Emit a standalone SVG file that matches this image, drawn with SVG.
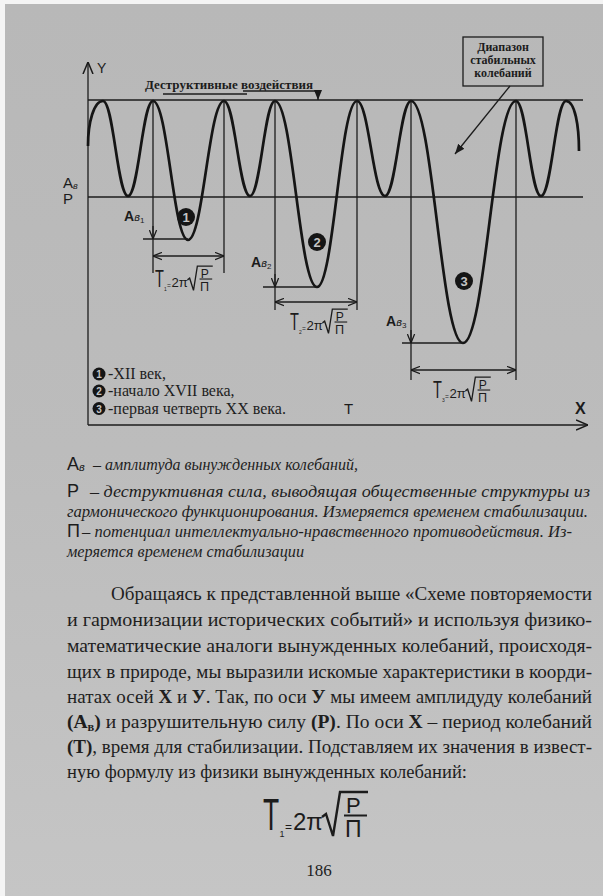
<svg xmlns="http://www.w3.org/2000/svg" width="603" height="896" viewBox="0 0 603 896">
<defs>
<linearGradient id="page" x1="0" y1="0" x2="0" y2="1">
<stop offset="0" stop-color="#b8b8b8"/>
<stop offset="0.5" stop-color="#bcbcbc"/>
<stop offset="1" stop-color="#c5c5c5"/>
</linearGradient>
<marker id="openArrow" viewBox="0 0 10 10" refX="10" refY="5" markerWidth="9" markerHeight="9" markerUnits="userSpaceOnUse" orient="auto-start-reverse">
<path d="M0,1 L10,5 L0,9" fill="none" stroke="#1a1a1a" stroke-width="1.4"/>
</marker>
<marker id="axisArrow" viewBox="0 0 12 12" refX="12" refY="6" markerWidth="12" markerHeight="12" markerUnits="userSpaceOnUse" orient="auto-start-reverse">
<path d="M0,1 L12,6 L0,11" fill="none" stroke="#1a1a1a" stroke-width="1.5"/>
</marker>
<marker id="solidArrow" viewBox="0 0 10 10" refX="10" refY="5" markerWidth="10" markerHeight="10" markerUnits="userSpaceOnUse" orient="auto">
<path d="M0,1 L10,5 L0,9 Z" fill="#1a1a1a"/>
</marker>
<style>
.ln{stroke:#1c1c1c;stroke-width:1.3;fill:none}
.wave{stroke:#151515;stroke-width:2.7;fill:none;stroke-linejoin:round}
.sans{font-family:"Liberation Sans",Arial,sans-serif;fill:#1c1c1c}
.serif{font-family:"Liberation Serif","Times New Roman",serif;fill:#1e1e1e}
.bs{font-family:"Liberation Serif","Times New Roman",serif;font-weight:bold;fill:#1c1c1c}
.it{font-family:"Liberation Serif","Times New Roman",serif;font-style:italic;fill:#1e1e1e;font-size:17px}
.par{font-family:"Liberation Serif","Times New Roman",serif;fill:#1e1e1e;font-size:19px}
.num{fill:#151515}
.numt{font-family:"Liberation Sans",Arial,sans-serif;font-weight:bold;fill:#c4c4c4;text-anchor:middle}
.fs{stroke:#1c1c1c;fill:none}
</style>
</defs>

<rect x="0" y="0" width="603" height="896" fill="#f4f4f4"/>
<rect x="5" y="4" width="598" height="892" fill="url(#page)"/>

<g id="axes">
<path class="ln" d="M88,425 V62" marker-end="url(#axisArrow)"/>
<path class="ln" d="M88,425 H588" marker-end="url(#axisArrow)"/>
<text class="sans" x="97" y="73" font-size="14">Y</text>
<text class="sans" x="575" y="414" font-size="16" font-weight="bold">X</text>
<text class="sans" x="344" y="414" font-size="15">T</text>
</g>

<g id="levels">
<path class="ln" d="M88,100 H583"/>
<path class="ln" d="M88,197 H583"/>
<text class="sans" x="63" y="188" font-size="15">A<tspan font-size="9" font-style="italic" dy="1">в</tspan></text>
<text class="sans" x="63" y="204" font-size="15">P</text>
</g>

<g id="wave">
<path class="wave" d="M88,146 C88,122 94,101 103,101 C113.5,101 117.5,196 128,196 C138.5,196 142.5,101 153,101 C167.7,101 173.3,240 188,240 C203.1,240 208.9,101 224,101 C234.9,101 239.1,196 250,196 C260.5,196 264.5,101 275,101 C292.6,101 299.4,287 317,287 C333.8,287 340.2,101 357,101 C368.8,101 373.2,196 385,196 C395.9,196 400.1,101 411,101 C432.8,101 441.2,343 463,343 C485.3,343 493.7,101 516,101 C526.5,101 530.5,196 541,196 C551.5,196 555.5,101 566,101 C575,101 579,126 579,151"/>
</g>

<g id="destructive-label">
<text class="bs" x="145" y="89" font-size="13" textLength="168" lengthAdjust="spacingAndGlyphs">Деструктивные воздействия</text>
<path class="ln" d="M163,94 H247"/>
<path class="ln" d="M243,91 H318 V100" marker-end="url(#solidArrow)"/>
</g>

<g id="stable-range-box">
<rect x="463" y="37" width="80" height="49" fill="none" stroke="#1c1c1c" stroke-width="1.3"/>
<text class="bs" x="503" y="51" font-size="12" text-anchor="middle">Диапазон</text>
<text class="bs" x="503" y="64" font-size="12" text-anchor="middle">стабильных</text>
<text class="bs" x="503" y="77" font-size="12" text-anchor="middle">колебаний</text>
</g>

<g id="connectors">
<path class="ln" d="M510,86 L455,154" marker-end="url(#solidArrow)"/>
<path class="ln" d="M153,100 V273"/>
<path class="ln" d="M224,100 V273"/>
<path class="ln" d="M275,100 V310"/>
<path class="ln" d="M357,100 V310"/>
<path class="ln" d="M411,100 V380"/>
<path class="ln" d="M516,100 V380"/>
<path class="ln" d="M143,239 H188"/>
<path class="ln" d="M263,287 H317"/>
<path class="ln" d="M402,343 H463"/>
<path class="ln" d="M153,226 V239" marker-end="url(#openArrow)"/>
<path class="ln" d="M275,274 V287" marker-end="url(#openArrow)"/>
<path class="ln" d="M411,330 V343" marker-end="url(#openArrow)"/>
<path class="ln" d="M153,256 H224" marker-start="url(#openArrow)" marker-end="url(#openArrow)"/>
<path class="ln" d="M275,302 H357" marker-start="url(#openArrow)" marker-end="url(#openArrow)"/>
<path class="ln" d="M411,370 H516" marker-start="url(#openArrow)" marker-end="url(#openArrow)"/>
</g>

<g id="amplitude-labels">
<text class="sans" x="124" y="221" font-size="14" font-weight="bold">A<tspan font-size="11" font-style="italic" font-weight="normal">в</tspan><tspan font-size="8" font-weight="normal" dy="2">1</tspan></text>
<text class="sans" x="251" y="267" font-size="14" font-weight="bold">A<tspan font-size="11" font-style="italic" font-weight="normal">в</tspan><tspan font-size="8" font-weight="normal" dy="2">2</tspan></text>
<text class="sans" x="386" y="326" font-size="14" font-weight="bold">A<tspan font-size="11" font-style="italic" font-weight="normal">в</tspan><tspan font-size="8" font-weight="normal" dy="2">3</tspan></text>
</g>

<g id="period-1" transform="translate(155,287) scale(0.55)">
<text class="sans" transform="scale(0.6,1)" font-size="44">T</text>
<text class="sans" x="16.5" y="7" font-size="9">1</text>
<text class="sans" x="22" y="1" font-size="12">=</text>
<text class="sans" x="30" y="0" font-size="24">2π</text>
<path class="fs" stroke-width="2.4" d="M59,-13 L63,-16 L70,6 L77,-38 L105,-38"/>
<text class="sans" x="83" y="-17" font-size="22">P</text>
<path class="fs" stroke-width="2" d="M81,-14.5 H104"/>
<text class="sans" x="82" y="7" font-size="23">П</text>
</g>
<g id="period-2" transform="translate(290,330) scale(0.55)">
<text class="sans" transform="scale(0.6,1)" font-size="44">T</text>
<text class="sans" x="16.5" y="7" font-size="9">2</text>
<text class="sans" x="22" y="1" font-size="12">=</text>
<text class="sans" x="30" y="0" font-size="24">2π</text>
<path class="fs" stroke-width="2.4" d="M59,-13 L63,-16 L70,6 L77,-38 L105,-38"/>
<text class="sans" x="83" y="-17" font-size="22">P</text>
<path class="fs" stroke-width="2" d="M81,-14.5 H104"/>
<text class="sans" x="82" y="7" font-size="23">П</text>
</g>
<g id="period-3" transform="translate(433,398) scale(0.55)">
<text class="sans" transform="scale(0.6,1)" font-size="44">T</text>
<text class="sans" x="16.5" y="7" font-size="9">3</text>
<text class="sans" x="22" y="1" font-size="12">=</text>
<text class="sans" x="30" y="0" font-size="24">2π</text>
<path class="fs" stroke-width="2.4" d="M59,-13 L63,-16 L70,6 L77,-38 L105,-38"/>
<text class="sans" x="83" y="-17" font-size="22">P</text>
<path class="fs" stroke-width="2" d="M81,-14.5 H104"/>
<text class="sans" x="82" y="7" font-size="23">П</text>
</g>

<g id="markers">
<circle class="num" cx="186" cy="217" r="9"/>
<text class="numt" x="186" y="222" font-size="13">1</text>
<circle class="num" cx="317" cy="242" r="9"/>
<text class="numt" x="317" y="247" font-size="13">2</text>
<circle class="num" cx="464" cy="281" r="9"/>
<text class="numt" x="464" y="286" font-size="13">3</text>
</g>

<g id="legend">
<circle class="num" cx="99" cy="374" r="6.5"/>
<text class="numt" x="99" y="378" font-size="10">1</text>
<text class="serif" x="108" y="379" font-size="16">-XII век,</text>
<circle class="num" cx="99" cy="391" r="6.5"/>
<text class="numt" x="99" y="395" font-size="10">2</text>
<text class="serif" x="108" y="396" font-size="16">-начало XVII века,</text>
<circle class="num" cx="99" cy="408.5" r="6.5"/>
<text class="numt" x="99" y="412.5" font-size="10">3</text>
<text class="serif" x="108" y="413.5" font-size="16">-первая четверть XX века.</text>
</g>

<g id="caption">
<text class="sans" x="67" y="470" font-size="18">A<tspan font-size="11" font-style="italic" dy="1">в</tspan></text>
<text class="it" x="93" y="470" textLength="265" lengthAdjust="spacingAndGlyphs">– амплитуда вынужденных колебаний,</text>
<text class="sans" x="67" y="497" font-size="18">P</text>
<text class="it" x="90" y="497" textLength="500" lengthAdjust="spacingAndGlyphs">– деструктивная сила, выводящая общественные структуры из</text>
<text class="it" x="67" y="517" textLength="521" lengthAdjust="spacingAndGlyphs">гармонического функционирования. Измеряется временем стабилизации.</text>
<text class="sans" x="67" y="537" font-size="18">П</text>
<text class="it" x="82" y="537" textLength="490" lengthAdjust="spacingAndGlyphs">– потенциал интеллектуально-нравственного противодействия. Из-</text>
<text class="it" x="67" y="557" textLength="237" lengthAdjust="spacingAndGlyphs">меряется временем стабилизации</text>
</g>

<g id="paragraph">
<text class="par" x="111" y="600" textLength="481" lengthAdjust="spacingAndGlyphs">Обращаясь к представленной выше «Схеме повторяемости</text>
<text class="par" x="67" y="626" textLength="525" lengthAdjust="spacingAndGlyphs">и гармонизации исторических событий» и используя физико-</text>
<text class="par" x="67" y="652" textLength="525" lengthAdjust="spacingAndGlyphs">математические аналоги вынужденных колебаний, происходя-</text>
<text class="par" x="67" y="678" textLength="525" lengthAdjust="spacingAndGlyphs">щих в природе, мы выразили искомые характеристики в коорди-</text>
<text class="par" x="67" y="703" textLength="525" lengthAdjust="spacingAndGlyphs">натах осей <tspan font-weight="bold">X</tspan> и <tspan font-weight="bold">У</tspan>. Так, по оси <tspan font-weight="bold">У</tspan> мы имеем амплидуду колебаний</text>
<text class="par" x="67" y="728" textLength="525" lengthAdjust="spacingAndGlyphs"><tspan font-weight="bold">(А<tspan font-size="12" dy="3">в</tspan><tspan dy="-3">)</tspan></tspan> и разрушительную силу <tspan font-weight="bold">(Р)</tspan>. По оси <tspan font-weight="bold">X</tspan> – период колебаний</text>
<text class="par" x="67" y="753" textLength="525" lengthAdjust="spacingAndGlyphs"><tspan font-weight="bold">(Т)</tspan>, время для стабилизации. Подставляем их значения в извест-</text>
<text class="par" x="67" y="778" textLength="400" lengthAdjust="spacingAndGlyphs">ную формулу из физики вынужденных колебаний:</text>
</g>

<g id="main-formula" transform="translate(263,830)">
<text class="sans" transform="scale(0.6,1)" font-size="44">T</text>
<text class="sans" x="16.5" y="7" font-size="9">1</text>
<text class="sans" x="22" y="1" font-size="12">=</text>
<text class="sans" x="30" y="0" font-size="24">2π</text>
<path class="fs" stroke-width="2.4" d="M59,-13 L63,-16 L70,6 L77,-38 L105,-38"/>
<text class="sans" x="83" y="-17" font-size="22">P</text>
<path class="fs" stroke-width="2" d="M81,-14.5 H104"/>
<text class="sans" x="82" y="7" font-size="23">П</text>
</g>

<text id="page-number" class="serif" x="319" y="876" font-size="17" text-anchor="middle">186</text>
</svg>
